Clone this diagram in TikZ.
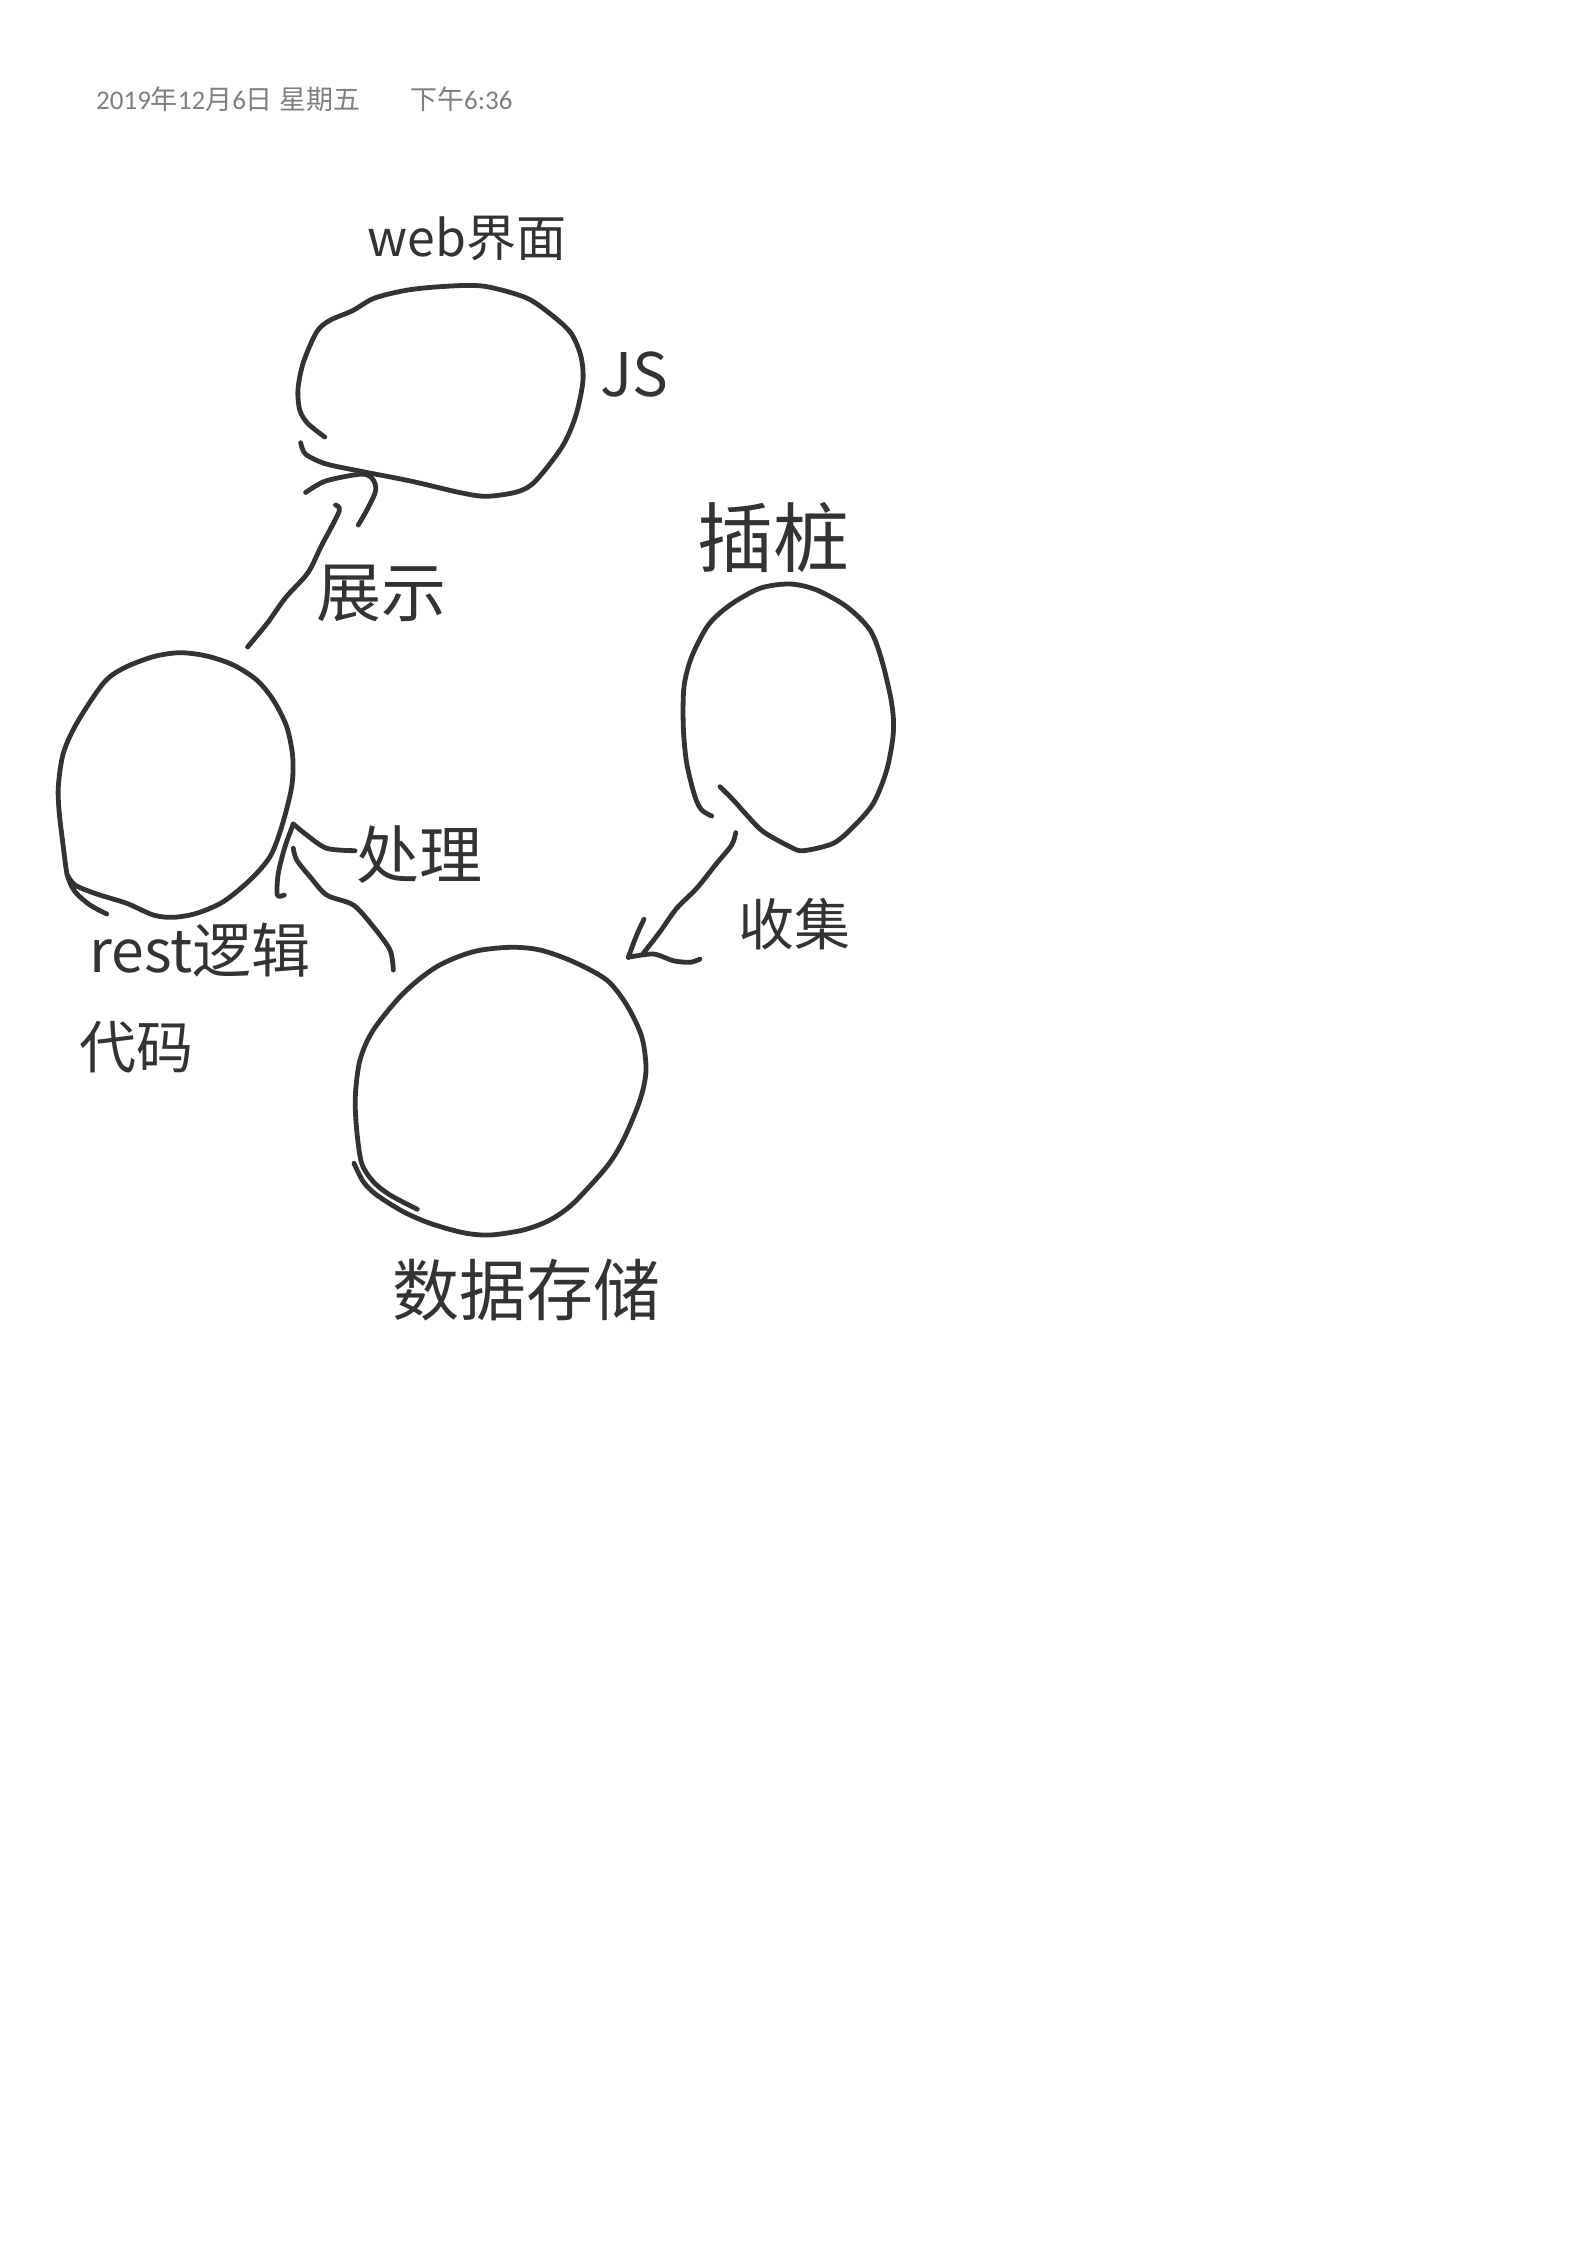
\documentclass[tikz,border=0pt]{standalone}
\usepackage{fontspec}
\setmainfont{Carlito}
\newfontfamily\cjk{Noto Sans CJK SC}
\definecolor{inkGray}{HTML}{333333}
\definecolor{stampGray}{HTML}{7F7F7F}
\newcommand{\handSize}[1]{\fontsize{#1}{#1}\selectfont\cjk}
\tikzstyle{inkStroke}=[draw = inkGray, line width = 4.8pt, line cap = round, line join = round]
\tikzstyle{handLabel}=[inner sep = 0pt, text = inkGray]
\tikzstyle{stampLabel}=[inner sep = 0pt, anchor = west, text = stampGray, font = \fontsize{27}{27}\selectfont]

\begin{document}
\begin{tikzpicture}[x = 1pt, y = -1pt]
\useasboundingbox (0,0) rectangle (1587,2245);
\node[stampLabel] (stampDate) at (96,99) {2019{\cjk 年}12{\cjk 月}6{\cjk 日 星期五}};
\node[stampLabel] (stampTime) at (410,99) {{\cjk 下午}6:36};
\coordinate (webTip) at (361.4,474.1);
\coordinate (restTop) at (247.6,647);
\coordinate (restSide) at (293.3,824);
\coordinate (dataTop) at (393.3,970);
\coordinate (probeBase) at (735.7,832.7);
\coordinate (dataSide) at (643.3,953.3);
\draw[inkStroke] plot[smooth] coordinates {(324.8,437) (307.9,423.6) (299.8,410.2) (298,389.1) (303.4,362.3) (316.8,331.7) (330.2,320.2) (352.5,310.7) (374.8,298) (410.5,289.6) (455.2,285.8) (486.4,286.6) (526.6,298) (553.4,316.4) (571.3,333.6) (581,356.6) (582.9,381.5) (575.7,415.9) (562.3,446.5) (535.5,481) (517.7,491.7) (486.4,496.3) (459.6,492.5) (410.5,481) (361.4,471.4) (325.7,463.8) (305.6,454.2) (300.7,442.7)};
\draw[inkStroke] plot[smooth] coordinates {(106.7,914) (90,905) (75,891.7) (67.3,875) (63.3,846.7) (59.3,813.3) (58.3,786.7) (63.3,753.3) (76.7,723.3) (103.3,683.3) (123.3,668.3) (153.3,656.7) (180,652.7) (206.7,656) (233.3,665) (256.7,680) (273.3,700) (286.7,726.7) (292.7,756.7) (291.7,786.7) (281.7,826.7) (270,856.7) (250,880) (223.3,901.7) (196.7,913.3) (173.3,917.3) (153.3,915) (126.7,903.3) (96.7,894) (75,885) (66.7,874)};
\draw[inkStroke] plot[smooth] coordinates {(417.3,1209.3) (390,1195) (373.3,1181.7) (361.7,1163.3) (356.7,1130) (355.3,1096.7) (360,1060) (373.3,1030) (403.3,993.3) (436.7,966.7) (473.3,951.7) (510,947.3) (540,950) (573.3,961.7) (606.7,980) (626.7,1005) (641.7,1036.7) (646,1070) (640,1100) (623.3,1140) (606.7,1166.7) (573.3,1203.3) (550,1220) (523.3,1230) (490,1235) (463.3,1232.7) (430,1223.3) (403.3,1211.7) (376.7,1195) (363.3,1181.7) (354,1163.3)};
\draw[inkStroke] plot[smooth] coordinates {(711.7,816) (701.7,810) (695,796.7) (686.7,763.3) (683.3,726.7) (684,686.7) (691.7,656.7) (708.3,625) (730,605) (760,588.3) (790,584) (816.7,590) (846.7,606.7) (870,630) (881.7,660) (891.7,703.3) (893.3,733.3) (886.7,770) (873.3,803.3) (853.3,826.7) (833.3,843.3) (803.3,850.7) (790,846.7) (763.3,831.7) (746.7,815) (733.3,800) (720,786.7)};
\draw[inkStroke] plot[smooth] coordinates {(restTop) (267.7,622.6) (285.5,597.7) (307.9,572.8) (321.3,546) (339.1,511.6) (335.5,505.1)};
\draw[inkStroke] plot[smooth] coordinates {(305.6,492.5) (325.7,481) (webTip) (372.6,479) (375.7,490.5) (368.1,507.8) (358.3,525)};
\draw[inkStroke] plot[smooth] coordinates {(dataTop) (390,950) (373.3,926.7) (353.3,905) (326.7,895) (310,876.7) (296.7,860) (293.3,848.3)};
\draw[inkStroke] plot[smooth] coordinates {(284.3,895) (277.3,895) (278.3,873.3) (285,846.7) (restSide)};
\draw[inkStroke] plot[smooth] coordinates {(restSide) (306.7,835) (326.7,848.3) (355,850.7)};
\draw[inkStroke] plot[smooth] coordinates {(probeBase) (731.7,845) (716.7,863.3) (696.7,888.3) (676.7,908.3) (660,931.7) (dataSide)};
\draw[inkStroke] plot[smooth] coordinates {(644,919.3) (636.7,935) (628.3,957.3)};
\draw[inkStroke] plot[smooth] coordinates {(628.3,957.3) (653.3,954) (673.3,960.7) (690,962.3) (700,959)};
\node[handLabel, font = \handSize{50}] (webLabel) at (467,238) {web界面};
\node[handLabel, font = \handSize{60}] (jsLabel) at (634,375) {JS};
\node[handLabel, font = \handSize{65}] (showLabel) at (381,593) {展示};
\node[handLabel, font = \handSize{76}] (probeLabel) at (773,538) {插桩};
\node[handLabel, font = \handSize{56}] (collectLabel) at (794,924) {收集};
\node[handLabel, font = \handSize{63}] (handleLabel) at (419,855) {处理};
\node[handLabel, font = \handSize{59}] (restLabel) at (200,950) {rest逻辑};
\node[handLabel, font = \handSize{57}] (codeLabel) at (136,1047) {代码};
\node[handLabel, font = \handSize{67}] (dataLabel) at (526,1290) {数据存储};
\end{tikzpicture}
\end{document}
